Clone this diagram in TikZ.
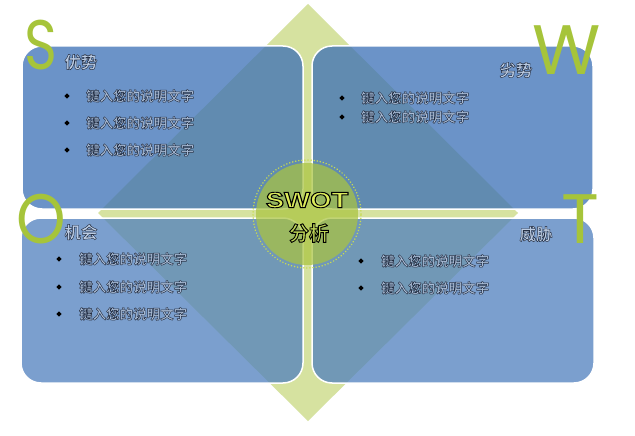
\documentclass[tikz,border=0pt]{standalone}
\usepackage{fontspec}
\setmainfont{Liberation Sans}
\newfontfamily\cjk{Noto Sans CJK SC}[BoldFont={Noto Sans CJK SC Bold}]
\newfontfamily\bigf{Poppins}
\usetikzlibrary{shapes.geometric}
\definecolor{dia}{HTML}{D6E2A0}
\definecolor{boxA}{HTML}{3A6FB6}
\definecolor{boxB}{HTML}{5080BE}
\definecolor{lime}{HTML}{A6C43A}
\definecolor{circ}{HTML}{AAC440}
\definecolor{dots}{HTML}{C8DC50}
\definecolor{txtfill}{HTML}{A9BCD6}
\definecolor{headfill}{HTML}{BCCCE3}
\definecolor{swotfill}{HTML}{DCEB5A}
\definecolor{fxfill}{HTML}{BCD356}
% outlined text: fill with the current colour, stroke in dark blue-grey
\newcommand\ol[1]{\special{pdf:code q 2 Tr 0.45 w 0.14 0.18 0.26 RG}#1\special{pdf:code Q}}
\newcommand\olb[1]{\special{pdf:code q 2 Tr 0.9 w 0 0 0 RG}#1\special{pdf:code Q}}
\tikzset{
  quad/.style={line width=1.5pt, draw=white, rounded corners=20pt, fill opacity=0.75},
  itemtext/.style={font=\cjk\bfseries\fontsize{13.5}{14}\selectfont, text=txtfill, inner sep=0, anchor=west},
  headtext/.style={font=\cjk\bfseries\fontsize{16.5}{17}\selectfont, text=headfill, inner sep=0},
  bul/.style={diamond, fill=black, inner sep=0, minimum size=5.5pt},
  bigletter/.style={font=\bigf\fontsize{70}{70}\selectfont, text=lime, inner sep=0}
}
\begin{document}
\begin{tikzpicture}[x=1pt, y=-1pt]
\useasboundingbox (0,0) rectangle (635,436);
\fill[white] (0,0) rectangle (635,436);
% diamond
\fill[dia] (308,4) -- (518,213) -- (308,421) -- (98,213) -- cycle;
% quadrant boxes
\path[quad, fill=boxA] (22,46) rectangle (303,209);
\path[quad, fill=boxA] (312,46) rectangle (593,209);
\path[quad, fill=boxB] (21,218) rectangle (303,383);
\path[quad, fill=boxB] (312,218) rectangle (594,383);
% centre circle
\fill[circ, opacity=0.72] (307,214) circle (51pt);
\draw[dots, line width=1.6pt, dash pattern=on 0.1pt off 3pt, line cap=round] (307,214) circle (54pt);
% big letters
\node[bigletter, xscale=0.8, transform shape] (S) at (41,45) {S};
\node[bigletter] (W) at (567,50) {W};
\node[bigletter, xscale=0.9, transform shape] (O) at (41,219) {O};
\node[bigletter] (T) at (580,219) {T};
% centre title
\node[inner sep=0, text=swotfill, font=\bfseries\fontsize{22}{22}\selectfont] (swot) at (307,200) {\scalebox{1.25}[1]{\olb{SWOT}}};
\node[inner sep=0, text=fxfill, font=\cjk\bfseries\fontsize{20}{20}\selectfont] (fx) at (309,233) {\olb{分析}};
% headings
\node[headtext] (hS) at (81,62) {\ol{优势}};
\node[headtext] (hW) at (516,70) {\ol{劣势}};
\node[headtext] (hO) at (81,232) {\ol{机会}};
\node[headtext] (hT) at (536,234) {\ol{威胁}};
% S items
\node[bul] (bs1) at (67,96) {};
\node[bul] (bs2) at (67,123) {};
\node[bul] (bs3) at (67,150) {};
\node[itemtext] (ts1) at (86,96) {\ol{键入您的说明文字}};
\node[itemtext] (ts2) at (86,123) {\ol{键入您的说明文字}};
\node[itemtext] (ts3) at (86,150) {\ol{键入您的说明文字}};
% W items
\node[bul] (bw1) at (342,98) {};
\node[bul] (bw2) at (342,117) {};
\node[itemtext] (tw1) at (361,98) {\ol{键入您的说明文字}};
\node[itemtext] (tw2) at (361,117) {\ol{键入您的说明文字}};
% O items
\node[bul] (bo1) at (59,259) {};
\node[bul] (bo2) at (59,287) {};
\node[bul] (bo3) at (59,314) {};
\node[itemtext] (to1) at (79,259) {\ol{键入您的说明文字}};
\node[itemtext] (to2) at (79,287) {\ol{键入您的说明文字}};
\node[itemtext] (to3) at (79,314) {\ol{键入您的说明文字}};
% T items
\node[bul] (bt1) at (361,261) {};
\node[bul] (bt2) at (361,288) {};
\node[itemtext] (tt1) at (381,261) {\ol{键入您的说明文字}};
\node[itemtext] (tt2) at (381,288) {\ol{键入您的说明文字}};
\end{tikzpicture}
\end{document}
